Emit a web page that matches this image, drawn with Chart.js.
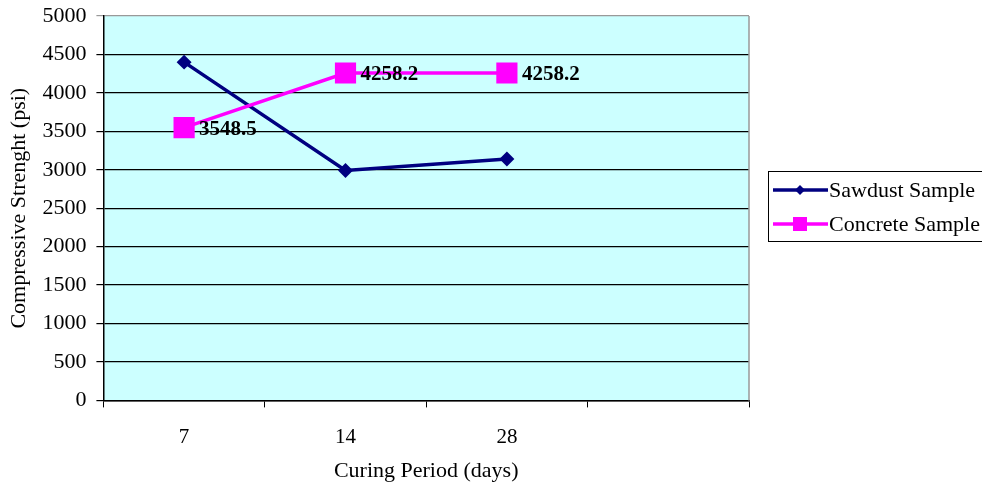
<!DOCTYPE html>
<html lang="en">
<head>
  <meta charset="UTF-8" />
  <title>Compressive Strength vs Curing Period</title>
  <script src="https://cdn.jsdelivr.net/npm/chart.js"></script>
  <style>
    html, body { margin: 0; padding: 0; background: #fff; }
    #wrap { width: 982px; height: 488px; position: relative; }
  </style>
</head>
<body>
<div id="wrap"><canvas id="strengthChart"></canvas></div>

<script>
  // curing periods (the 4th slot is empty in the original)
  const curingDays = ['7', '14', '28', ''];
  const sawdustValues = [4400, 2990, 3140];
  const concreteValues = [3548.5, 4258.2, 4258.2];
  const yTicks = [0, 500, 1000, 1500, 2000, 2500, 3000, 3500, 4000, 4500, 5000];

  const serif = '"Liberation Serif", "Times New Roman", serif';

  // light cyan plot area + grey right border
  const plotBg = {
    id: 'plotBg',
    beforeDraw(chart) {
      const a = chart.chartArea, ctx = chart.ctx;
      ctx.save();
      ctx.fillStyle = '#CCFFFF';
      ctx.fillRect(a.left, a.top, a.right - a.left, a.bottom - a.top);
      ctx.restore();
    },
    afterDatasetsDraw(chart) {
      const a = chart.chartArea, ctx = chart.ctx;
      ctx.save();
      ctx.strokeStyle = '#999';
      ctx.lineWidth = 1.5;
      ctx.beginPath();
      ctx.moveTo(a.right, a.top);
      ctx.lineTo(a.right, a.bottom);
      ctx.stroke();
      ctx.restore();
    }
  };

  // value labels next to the concrete points
  const valueLabels = {
    id: 'valueLabels',
    afterDatasetsDraw(chart) {
      const ctx = chart.ctx;
      const meta = chart.getDatasetMeta(1);
      ctx.save();
      ctx.font = 'bold 21px ' + serif;
      ctx.fillStyle = '#000';
      ctx.textAlign = 'left';
      ctx.textBaseline = 'middle';
      meta.data.forEach((pt, i) => {
        ctx.fillText(String(concreteValues[i]), pt.x + 15, pt.y + 2);
      });
      ctx.restore();
    }
  };

  // Excel-like legend box on the right (its right edge runs off the canvas)
  const boxLegend = {
    id: 'boxLegend',
    afterDraw(chart) {
      const ctx = chart.ctx;
      const x = 768, y = 171, w = 230, h = 70;
      ctx.save();
      ctx.strokeStyle = '#000';
      ctx.lineWidth = 1;
      ctx.strokeRect(x + 0.5, y + 0.5, w, h);
      chart.data.datasets.forEach((ds, i) => {
        const cy = y + 19 + i * 34;
        ctx.strokeStyle = ds.borderColor;
        ctx.lineWidth = ds.borderWidth;
        ctx.beginPath();
        ctx.moveTo(x + 5, cy);
        ctx.lineTo(x + 60, cy);
        ctx.stroke();
        ctx.fillStyle = ds.backgroundColor;
        if (ds.pointStyle === 'rect') {
          ctx.fillRect(x + 25, cy - 7, 14, 14);
        } else {
          ctx.beginPath();
          ctx.moveTo(x + 32, cy - 5);
          ctx.lineTo(x + 37, cy);
          ctx.lineTo(x + 32, cy + 5);
          ctx.lineTo(x + 27, cy);
          ctx.closePath();
          ctx.fill();
        }
        ctx.fillStyle = '#000';
        ctx.font = '22px ' + serif;
        ctx.textBaseline = 'middle';
        ctx.fillText(ds.label, x + 61, cy + 1);
      });
      ctx.restore();
    }
  };

  new Chart(document.getElementById('strengthChart'), {
    type: 'line',
    data: {
      labels: curingDays,
      datasets: [
        {
          label: 'Sawdust Sample',
          data: sawdustValues,
          borderColor: '#000080',
          backgroundColor: '#000080',
          borderWidth: 3.5,
          pointStyle: 'rectRot',
          pointRadius: 5,
          tension: 0,
          order: 1
        },
        {
          label: 'Concrete Sample',
          data: concreteValues,
          borderColor: '#FF00FF',
          backgroundColor: '#FF00FF',
          borderWidth: 3.5,
          pointStyle: 'rect',
          pointRadius: 12.5,
          tension: 0,
          order: 0
        }
      ]
    },
    options: {
      responsive: true,
      maintainAspectRatio: false,
      animation: false,
      layout: { padding: { left: -6, right: 233, top: 12, bottom: 4 } },
      plugins: {
        legend: { display: false },
        tooltip: { enabled: false }
      },
      scales: {
        x: {
          offset: true,
          grid: {
            offset: true,
            drawOnChartArea: false,
            drawTicks: true,
            tickLength: 7,
            color: '#000'
          },
          border: { color: '#000', width: 1.5 },
          ticks: { color: '#000', font: { family: serif, size: 21 }, padding: 17 },
          title: {
            display: true,
            text: 'Curing Period (days)',
            color: '#000',
            font: { family: serif, size: 22 },
            padding: { top: -9, bottom: 0 }
          }
        },
        y: {
          min: 0,
          max: 5000,
          afterBuildTicks(scale) {
            scale.ticks = yTicks.map(v => ({ value: v }));
          },
          afterFit(scale) {
            scale.paddingTop = 0;
          },
          grid: {
            color: ctx => (ctx.tick && ctx.tick.value === 5000 ? '#999' : '#000'),
            lineWidth: 1.2,
            tickLength: 7
          },
          border: { color: '#000', width: 1.5 },
          ticks: {
            color: '#000',
            font: { family: serif, size: 22 },
            padding: 10,
            callback: v => String(v)
          },
          title: {
            display: true,
            text: 'Compressive Strenght (psi)',
            color: '#000',
            font: { family: serif, size: 22 },
            padding: { top: 12, bottom: 0 }
          }
        }
      }
    },
    plugins: [plotBg, valueLabels, boxLegend]
  });
</script>
</body>
</html>
